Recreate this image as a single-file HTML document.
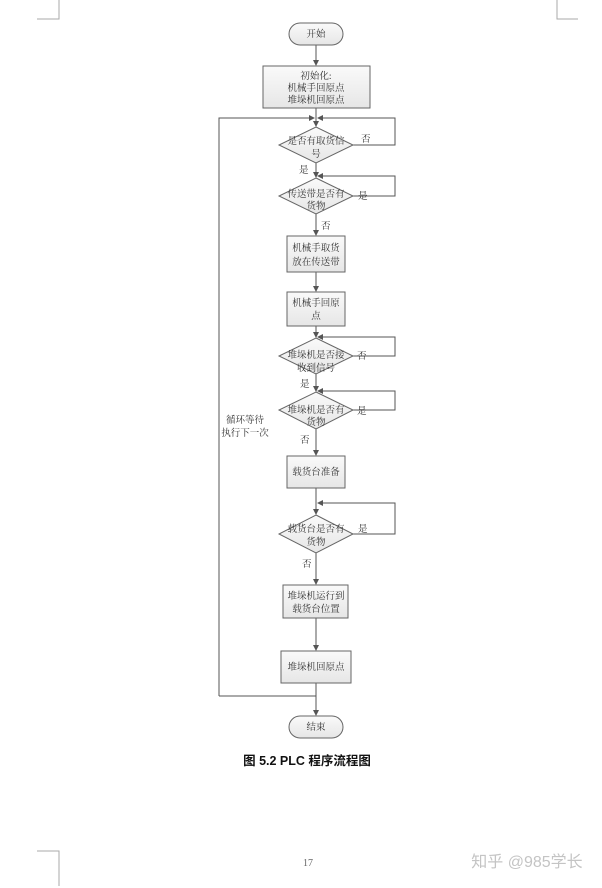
<!DOCTYPE html>
<html><head><meta charset="utf-8"><style>
html,body{margin:0;padding:0;background:#fff;}
svg{display:block;}
text{font-family:"Liberation Serif","Noto Serif CJK SC","Noto Sans CJK SC",serif;font-size:9.5px;fill:#333;}
</style></head><body>
<svg width="602" height="888" viewBox="0 0 602 888" xmlns="http://www.w3.org/2000/svg">
<defs>
<linearGradient id="g" x1="0" y1="0" x2="0" y2="1"><stop offset="0" stop-color="#fafafa"/><stop offset="1" stop-color="#e6e6e6"/></linearGradient>
<marker id="a" markerWidth="6" markerHeight="6" refX="5" refY="3" orient="auto" markerUnits="userSpaceOnUse"><path d="M0,0 L6,3 L0,6z" fill="#555"/></marker>
</defs>
<g stroke="#aaa" stroke-width="1" fill="none">
<path d="M59,0V19H37"/><path d="M557,0V19H578"/><path d="M59,886V851H37"/>
</g>
<g stroke="#555" stroke-width="1" fill="none">
<line x1="316" y1="45" x2="316" y2="65" marker-end="url(#a)"/>
<line x1="316" y1="108" x2="316" y2="126" marker-end="url(#a)"/>
<polyline points="219,696 219,118 314,118" marker-end="url(#a)"/>
<polyline points="353,145 395,145 395,118 318,118" marker-end="url(#a)"/>
<line x1="316" y1="163" x2="316" y2="177" marker-end="url(#a)"/>
<polyline points="353,196 395,196 395,176 318,176" marker-end="url(#a)"/>
<line x1="316" y1="214" x2="316" y2="235" marker-end="url(#a)"/>
<line x1="316" y1="272" x2="316" y2="291" marker-end="url(#a)"/>
<line x1="316" y1="326" x2="316" y2="337" marker-end="url(#a)"/>
<polyline points="353,356 395,356 395,337 318,337" marker-end="url(#a)"/>
<line x1="316" y1="374" x2="316" y2="391" marker-end="url(#a)"/>
<polyline points="353,410 395,410 395,391 318,391" marker-end="url(#a)"/>
<line x1="316" y1="429" x2="316" y2="455" marker-end="url(#a)"/>
<line x1="316" y1="488" x2="316" y2="514" marker-end="url(#a)"/>
<polyline points="353,534 395,534 395,503 318,503" marker-end="url(#a)"/>
<line x1="316" y1="553" x2="316" y2="584" marker-end="url(#a)"/>
<line x1="316" y1="618" x2="316" y2="650" marker-end="url(#a)"/>
<line x1="316" y1="683" x2="316" y2="715" marker-end="url(#a)"/>
<line x1="219" y1="696" x2="316" y2="696"/>
</g>
<g stroke="#666" stroke-width="1" fill="url(#g)">
<rect x="289" y="23" width="54" height="22" rx="11"/>
<rect x="263" y="66" width="107" height="42"/>
<polygon points="316,127 353,145 316,163 279,145"/>
<polygon points="316,178 353,196 316,214 279,196"/>
<rect x="287" y="236" width="58" height="36"/>
<rect x="287" y="292" width="58" height="34"/>
<polygon points="316,338 353,356 316,374 279,356"/>
<polygon points="316,392 353,410 316,429 279,410"/>
<rect x="287" y="456" width="58" height="32"/>
<polygon points="316,515 353,534 316,553 279,534"/>
<rect x="283" y="585" width="65" height="33"/>
<rect x="281" y="651" width="70" height="32"/>
<rect x="289" y="716" width="54" height="22" rx="11"/>
</g>
<g text-anchor="middle">
<text x="316" y="37">开始</text>
<text x="316" y="79">初始化:</text>
<text x="316" y="91">机械手回原点</text>
<text x="316" y="103">堆垛机回原点</text>
<text x="316" y="144">是否有取货信</text>
<text x="316" y="157">号</text>
<text x="316" y="197">传送带是否有</text>
<text x="316" y="209">货物</text>
<text x="316" y="251">机械手取货</text>
<text x="316" y="265">放在传送带</text>
<text x="316" y="306">机械手回原</text>
<text x="316" y="319">点</text>
<text x="316" y="358">堆垛机是否接</text>
<text x="316" y="371">收到信号</text>
<text x="316" y="413">堆垛机是否有</text>
<text x="316" y="425">货物</text>
<text x="316" y="475">载货台准备</text>
<text x="316" y="532">载货台是否有</text>
<text x="316" y="545">货物</text>
<text x="316" y="599">堆垛机运行到</text>
<text x="316" y="612">载货台位置</text>
<text x="316" y="670">堆垛机回原点</text>
<text x="316" y="730">结束</text>
<text x="245" y="423">循环等待</text>
<text x="245" y="436">执行下一次</text>
</g>
<text x="361" y="142">否</text>
<text x="299" y="173">是</text>
<text x="358" y="199">是</text>
<text x="321" y="229">否</text>
<text x="357" y="359">否</text>
<text x="300" y="387">是</text>
<text x="357" y="414">是</text>
<text x="300" y="443">否</text>
<text x="358" y="532">是</text>
<text x="302" y="567">否</text>
<text x="307" y="765" text-anchor="middle" style="font-family:'Liberation Sans','Noto Sans CJK SC',sans-serif;font-size:12.5px;font-weight:bold;fill:#111">图 5.2  PLC 程序流程图</text>
<text x="308" y="866" text-anchor="middle" style="font-size:10px;fill:#666">17</text>
<text x="527" y="867" text-anchor="middle" style="font-family:'Liberation Sans','Noto Sans CJK SC',sans-serif;font-size:16px;fill:#c4c4c4">知乎 @985学长</text>
</svg>
</body></html>
